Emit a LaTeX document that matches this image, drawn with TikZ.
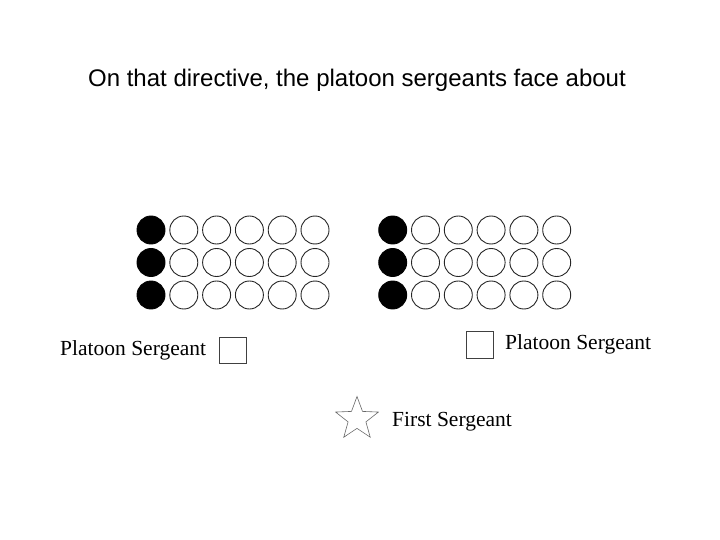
\documentclass[tikz,border=0pt]{standalone}
\usepackage{fontspec}
\setmainfont{Liberation Serif}
\newfontfamily\titlefont{Liberation Sans}
\usetikzlibrary{shapes.geometric}
\begin{document}
\begin{tikzpicture}[x=1pt,y=-1pt,
  soldier/.style={circle,draw=black!85,line width=0.9pt,minimum size=28pt,inner sep=0pt},
  guide/.style={soldier,fill=black,draw=black},
  sgtbox/.style={draw=black!75,line width=0.8pt,minimum size=26.5pt,inner sep=0pt},
  lbl/.style={font=\fontsize{21.5}{24}\selectfont,inner sep=0pt},
  firststar/.style={star,star points=5,star point ratio=2.4,minimum size=45pt,inner sep=0pt,draw=black!60,line width=0.6pt}]
\useasboundingbox (0,0) rectangle (720,540);
\node[font=\titlefont\fontsize{24}{28}\selectfont,anchor=base,inner sep=0pt] (title) at (357,87) {On that directive, the platoon sergeants face about};
\foreach \g/\x in {L/151,R/392.7}{
  \foreach \r/\y in {1/230,2/262.5,3/295}{
    \node[guide] (\g-\r-0) at (\x,\y) {};
    \foreach \c in {1,...,5}{
      \node[soldier] (\g-\r-\c) at (\x+32.8*\c,\y) {};
    }
  }
}
\node[sgtbox] (boxL) at (233,350.5) {};
\node[sgtbox] (boxR) at (480,345) {};
\node[lbl,anchor=base west] (lblL) at (60,355) {Platoon Sergeant};
\node[lbl,anchor=base west] (lblR) at (505,349) {Platoon Sergeant};
\node[firststar] (star) at (357,419) {};
\node[lbl,anchor=base west] (lblS) at (392,426) {First Sergeant};
\end{tikzpicture}
\end{document}
